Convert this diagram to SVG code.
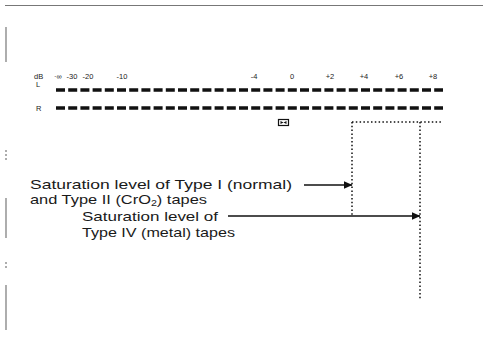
<svg xmlns="http://www.w3.org/2000/svg" width="483" height="363" viewBox="0 0 483 363">
<defs>
<marker id="ah" markerWidth="9" markerHeight="8" refX="8.5" refY="4" orient="auto" markerUnits="userSpaceOnUse">
<path d="M0,0 L9,4 L0,8 Z" fill="#111"/>
</marker>
</defs>
<style>
.lbl{font-family:"Liberation Sans",Arial,sans-serif;font-size:13px;fill:#1a1a1a}
.sc{font-family:"Liberation Sans",Arial,sans-serif;font-size:7.5px;fill:#222;text-anchor:middle}
.sl{font-family:"Liberation Sans",Arial,sans-serif;font-size:7.5px;fill:#222}
.meter{stroke:#111;stroke-width:3.4;stroke-dasharray:9 3.2;fill:none}
.dot{stroke:#111;stroke-width:1.5;stroke-dasharray:1.5 2.3;fill:none}
.arr{stroke:#111;stroke-width:1.4;fill:none;marker-end:url(#ah)}
.border{stroke:#777;stroke-width:1.2;fill:none}
</style>
<rect width="483" height="363" fill="#fff"/>
<g id="frame">
<line class="border" x1="5" y1="5.5" x2="483" y2="5.5"/>
<line class="border" x1="6" y1="27" x2="6" y2="62"/>
<line class="border" x1="6" y1="150" x2="6" y2="162" stroke-dasharray="2 2"/>
<line class="border" x1="6" y1="198" x2="6" y2="238"/>
<line class="border" x1="6" y1="262" x2="6" y2="268" stroke-dasharray="2 2"/>
<line class="border" x1="6" y1="285" x2="6" y2="330"/>
</g>
<g id="meter">
<text class="sl" x="34" y="79">dB</text>
<text class="sl" x="36" y="87">L</text>
<text class="sl" x="36" y="111">R</text>
<text class="sc" x="58" y="79">·∞</text>
<text class="sc" x="72" y="79">-30</text>
<text class="sc" x="88" y="79">-20</text>
<text class="sc" x="122" y="79">-10</text>
<text class="sc" x="254" y="79">-4</text>
<text class="sc" x="292" y="79">0</text>
<text class="sc" x="330" y="79">+2</text>
<text class="sc" x="364" y="79">+4</text>
<text class="sc" x="399" y="79">+6</text>
<text class="sc" x="433" y="79">+8</text>
<line class="meter" x1="56" y1="90" x2="443" y2="90"/>
<line class="meter" x1="56" y1="108" x2="443" y2="108"/>
</g>
<g id="box-icon">
<rect x="278.5" y="119.5" width="10" height="6" fill="none" stroke="#111" stroke-width="1.2"/>
<path d="M280.5,121 L283.5,122.5 L280.5,124 Z M286.5,121 L283.5,122.5 L286.5,124 Z" fill="#111"/>
</g>
<g id="saturation-bracket">
<path class="dot" d="M352,122 H443"/>
<path class="dot" d="M352,122 V216"/>
<path class="dot" d="M420,122 V300"/>
</g>
<g id="label-type1-2">
<text class="lbl" x="30" y="189" textLength="262" lengthAdjust="spacingAndGlyphs">Saturation level of Type I (normal)</text>
<text class="lbl" x="30" y="204" textLength="177" lengthAdjust="spacingAndGlyphs">and Type II (CrO<tspan font-size="8.5" dy="2">2</tspan><tspan dy="-2">) tapes</tspan></text>
</g>
<g id="label-type4">
<text class="lbl" x="82" y="221" textLength="136" lengthAdjust="spacingAndGlyphs">Saturation level of</text>
<text class="lbl" x="82" y="237" textLength="153" lengthAdjust="spacingAndGlyphs">Type IV (metal) tapes</text>
</g>
<g id="connectors">
<line class="arr" x1="304" y1="185" x2="352" y2="185"/>
<line class="arr" x1="228" y1="216" x2="420" y2="216"/>
</g>
</svg>
